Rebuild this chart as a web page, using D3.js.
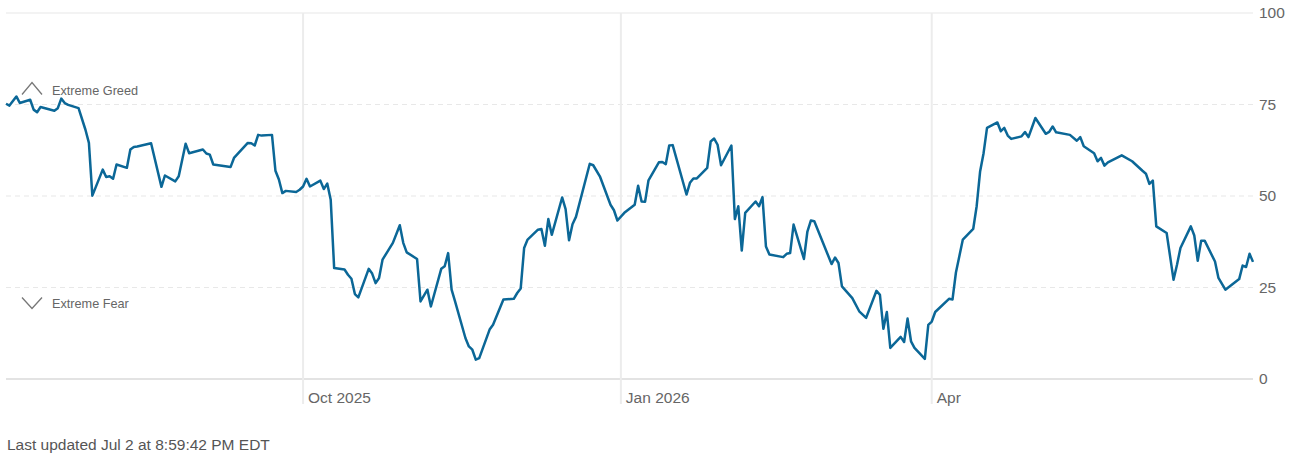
<!DOCTYPE html>
<html lang="en">
<head>
    <meta charset="UTF-8">
    <title>Fear & Greed Index - timeline</title>
    <script src="https://d3js.org/d3.v7.min.js"></script>
    <style>
        body {
            margin: 0;
            background: #fff;
            font-family: "Liberation Sans", Arial, sans-serif;
        }
        .tick-label {
            font-size: 15.5px;
            fill: #666;
        }
        .zone-label {
            font-size: 12.7px;
            fill: #666;
        }
        .footer {
            font-size: 15.5px;
            fill: #555;
        }
    </style>
</head>
<body>
    <div id="chart"></div>

    <script>
        // Index readings (one per trading day)
        const dates = [
            "2025-07-07","2025-07-08","2025-07-10","2025-07-11","2025-07-14","2025-07-15","2025-07-16","2025-07-17",
            "2025-07-21","2025-07-22","2025-07-23","2025-07-24","2025-07-25","2025-07-28","2025-07-30","2025-07-31",
            "2025-08-01","2025-08-04","2025-08-05","2025-08-06","2025-08-07","2025-08-08","2025-08-11","2025-08-12",
            "2025-08-13","2025-08-14","2025-08-18","2025-08-21","2025-08-22","2025-08-25","2025-08-26","2025-08-28",
            "2025-08-29","2025-09-02","2025-09-03","2025-09-04","2025-09-05","2025-09-10","2025-09-11","2025-09-15",
            "2025-09-16","2025-09-17","2025-09-18","2025-09-19","2025-09-22","2025-09-23","2025-09-24","2025-09-25",
            "2025-09-26","2025-09-29","2025-09-30","2025-10-01","2025-10-02","2025-10-03","2025-10-06","2025-10-07",
            "2025-10-08","2025-10-09","2025-10-10","2025-10-13","2025-10-14","2025-10-15","2025-10-16","2025-10-17",
            "2025-10-20","2025-10-21","2025-10-22","2025-10-23","2025-10-24","2025-10-27","2025-10-29","2025-10-30",
            "2025-10-31","2025-11-03","2025-11-04","2025-11-06","2025-11-07","2025-11-10","2025-11-11","2025-11-12",
            "2025-11-13","2025-11-14","2025-11-17","2025-11-18","2025-11-19","2025-11-20","2025-11-21","2025-11-24",
            "2025-11-25","2025-11-28","2025-12-01","2025-12-02","2025-12-03","2025-12-04","2025-12-05","2025-12-08",
            "2025-12-09","2025-12-10","2025-12-11","2025-12-12","2025-12-15","2025-12-16","2025-12-17","2025-12-18",
            "2025-12-19","2025-12-23","2025-12-24","2025-12-26","2025-12-29","2025-12-30","2025-12-31","2026-01-02",
            "2026-01-05","2026-01-06","2026-01-07","2026-01-08","2026-01-09","2026-01-12","2026-01-13","2026-01-14",
            "2026-01-15","2026-01-16","2026-01-20","2026-01-21","2026-01-22","2026-01-23","2026-01-26","2026-01-27",
            "2026-01-28","2026-01-29","2026-01-30","2026-02-02","2026-02-03","2026-02-04","2026-02-05","2026-02-06",
            "2026-02-09","2026-02-10","2026-02-11","2026-02-12","2026-02-13","2026-02-17","2026-02-18","2026-02-19",
            "2026-02-20","2026-02-23","2026-02-24","2026-02-25","2026-02-26","2026-03-03","2026-03-04","2026-03-05",
            "2026-03-06","2026-03-09","2026-03-11","2026-03-13","2026-03-16","2026-03-17","2026-03-18","2026-03-19",
            "2026-03-20","2026-03-23","2026-03-24","2026-03-25","2026-03-26","2026-03-27","2026-03-30","2026-03-31",
            "2026-04-01","2026-04-02","2026-04-06","2026-04-07","2026-04-08","2026-04-10","2026-04-13","2026-04-14",
            "2026-04-15","2026-04-16","2026-04-17","2026-04-20","2026-04-21","2026-04-22","2026-04-23","2026-04-24",
            "2026-04-27","2026-04-28","2026-04-29","2026-05-01","2026-05-04","2026-05-05","2026-05-06","2026-05-07",
            "2026-05-11","2026-05-13","2026-05-14","2026-05-15","2026-05-18","2026-05-19","2026-05-20","2026-05-21",
            "2026-05-22","2026-05-26","2026-05-29","2026-06-01","2026-06-02","2026-06-03","2026-06-04","2026-06-05",
            "2026-06-08","2026-06-10","2026-06-11","2026-06-12","2026-06-15","2026-06-16","2026-06-17","2026-06-18",
            "2026-06-19","2026-06-22","2026-06-23","2026-06-25","2026-06-29","2026-06-30","2026-07-01","2026-07-02",
            "2026-07-03"
        ];
        const scores = [
            75.2, 74.7, 77.2, 75.4, 76.3, 73.6, 72.9, 74.3,
            73.3, 74.0, 76.6, 75.4, 74.9, 74.0, 68.1, 64.5,
            50.1, 57.2, 55.2, 55.4, 54.7, 58.6, 57.7, 62.7,
            63.4, 63.5, 64.4, 52.5, 55.6, 54.0, 55.4, 64.3,
            61.7, 62.7, 61.6, 61.3, 58.6, 57.9, 60.4, 64.5,
            64.4, 63.8, 66.7, 66.5, 66.7, 56.9, 54.5, 50.8,
            51.4, 51.1, 51.7, 52.6, 54.7, 52.6, 54.2, 51.9,
            53.4, 49.0, 30.3, 29.9, 28.5, 27.4, 23.2, 22.3,
            30.1, 28.8, 26.2, 27.6, 32.6, 37.2, 42.0, 37.2,
            34.6, 32.8, 21.2, 24.4, 19.8, 30.1, 30.8, 34.4,
            24.4, 21.2, 11.2, 8.9, 8.0, 5.3, 5.7, 13.5,
            14.8, 21.7, 21.9, 23.5, 24.7, 35.8, 38.1, 40.8,
            41.0, 36.4, 43.7, 39.4, 49.6, 46.4, 37.9, 42.3,
            44.3, 58.8, 58.4, 55.2, 47.6, 46.1, 43.3, 45.4,
            47.6, 52.8, 48.5, 48.4, 54.3, 59.2, 59.3, 58.7,
            63.8, 63.9, 50.4, 53.6, 54.8, 54.8, 57.7, 64.9,
            65.7, 64.0, 58.4, 63.8, 43.7, 47.2, 35.1, 45.4,
            48.5, 47.2, 49.7, 36.2, 34.0, 33.3, 34.2, 34.4,
            42.2, 32.8, 40.3, 43.3, 43.1, 31.4, 33.2, 31.7,
            25.3, 22.1, 18.5, 16.7, 24.1, 23.0, 13.7, 18.3,
            8.5, 11.5, 10.1, 16.5, 10.3, 8.5, 5.5, 14.8,
            15.7, 18.3, 21.9, 21.7, 29.1, 38.1, 41.0, 47.2,
            56.7, 61.7, 68.6, 70.1, 67.7, 68.6, 66.5, 65.6,
            66.3, 67.5, 66.1, 71.3, 67.0, 67.5, 69.0, 67.4,
            66.7, 65.1, 66.1, 63.6, 61.7, 59.5, 60.4, 58.3,
            59.2, 61.1, 59.5, 56.9, 56.1, 53.3, 54.2, 41.7,
            39.9, 27.1, 31.2, 35.8, 41.7, 39.2, 32.3, 37.8,
            37.8, 32.1, 27.6, 24.4, 27.3, 31.0, 30.6, 34.2,
            32.0
        ];

        // Axis ticks
        const yTicks = [0, 25, 50, 75, 100];
        const xTickDates = ["2025-10-01", "2026-01-01", "2026-04-01"];
        const xTickLabels = ["Oct 2025", "Jan 2026", "Apr"];
        const domainDates = ["2025-07-07", "2026-07-03"];

        // Rating zones marked on the left
        const zoneLabels = ["Extreme Greed", "Extreme Fear"];
        const zoneLevels = [75, 25];
        const zoneDirections = ["up", "down"];

        const updatedText = "Last updated Jul 2 at 8:59:42 PM EDT";

        const width = 1291;
        const height = 457;
        const plot = { left: 6, right: 1253, top: 13, bottom: 379 };

        const parse = d3.utcParse("%Y-%m-%d");
        const data = dates.map((d, i) => ({ date: parse(d), value: scores[i] }));

        const x = d3.scaleUtc()
            .domain(domainDates.map(parse))
            .range([plot.left, plot.right]);

        const y = d3.scaleLinear()
            .domain([0, 100])
            .range([plot.bottom, plot.top]);

        const svg = d3.select("#chart")
            .append("svg")
            .attr("width", width)
            .attr("height", height);

        // Horizontal grid lines (0 is the solid baseline, 100 solid top)
        svg.append("g")
            .selectAll("line")
            .data(yTicks)
            .join("line")
            .attr("x1", plot.left)
            .attr("x2", plot.right)
            .attr("y1", d => y(d))
            .attr("y2", d => y(d))
            .attr("stroke", d => d === 0 ? "#e3e3e3" : "#e8e8e8")
            .attr("stroke-width", d => d === 0 ? 2 : 1.2)
            .attr("stroke-dasharray", d => (d === 0 || d === 100) ? null : "5,4");

        // Vertical grid lines at the month ticks
        svg.append("g")
            .selectAll("line")
            .data(xTickDates)
            .join("line")
            .attr("x1", d => x(parse(d)))
            .attr("x2", d => x(parse(d)))
            .attr("y1", plot.top)
            .attr("y2", plot.bottom + 25)
            .attr("stroke", "#ececec")
            .attr("stroke-width", 2);

        // Y axis on the right
        const yAxis = svg.append("g")
            .attr("transform", `translate(${plot.right},0)`)
            .call(d3.axisRight(y).tickValues(yTicks).tickSize(0).tickPadding(6));
        yAxis.select(".domain").remove();
        yAxis.attr("font-family", null).attr("font-size", null);
        yAxis.selectAll("text").attr("class", "tick-label");

        // X axis labels, right of each grid line
        svg.append("g")
            .selectAll("text")
            .data(xTickDates)
            .join("text")
            .attr("class", "tick-label")
            .attr("x", d => x(parse(d)) + 5)
            .attr("y", plot.bottom + 24)
            .text((d, i) => xTickLabels[i]);

        // Zone markers
        const zones = svg.append("g");
        zoneLabels.forEach((label, i) => {
            const up = zoneDirections[i] === "up";
            const base = y(zoneLevels[i]) + (up ? -10 : 10);
            const tip = up ? base - 12 : base + 11;
            zones.append("path")
                .attr("d", `M22,${base} L32,${tip} L42,${base}`)
                .attr("fill", "none")
                .attr("stroke", "#777")
                .attr("stroke-width", 1.3);
            zones.append("text")
                .attr("class", "zone-label")
                .attr("x", 52)
                .attr("y", up ? base + 0.5 : base + 10.5)
                .text(label);
        });

        // Index line
        const line = d3.line()
            .x(d => x(d.date))
            .y(d => y(d.value));

        svg.append("path")
            .datum(data)
            .attr("d", line)
            .attr("fill", "none")
            .attr("stroke", "#0b6797")
            .attr("stroke-width", 2.5)
            .attr("stroke-linejoin", "round");

        // Footer
        svg.append("text")
            .attr("class", "footer")
            .attr("x", 7)
            .attr("y", 450)
            .text(updatedText);
    </script>
</body>
</html>
